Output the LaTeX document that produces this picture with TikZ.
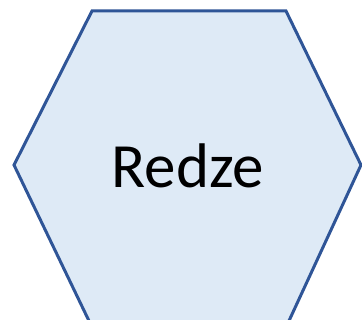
\documentclass[tikz,border=0pt]{standalone}
\usepackage{fontspec}
\setmainfont{Carlito}
\definecolor{hexfill}{HTML}{DEEAF6}
\definecolor{hexline}{HTML}{2F5597}
\tikzset{
  hexside/.style={draw=hexline,fill=hexfill,line width=3pt,line join=miter},
  label/.style={font=\fontsize{63}{63}\selectfont,text=black}
}
\begin{document}
\begin{tikzpicture}[x=1pt,y=-1pt]
\useasboundingbox (0,0) rectangle (362,320);
\coordinate (tl) at (92,11);
\coordinate (tr) at (286,11);
\coordinate (r) at (361,165);
\coordinate (br) at (288,323);
\coordinate (bl) at (90,323);
\coordinate (l) at (14,165);
\draw[hexside] (tl) -- (tr) -- (r) -- (br) -- (bl) -- (l) -- cycle;
\node[label] (name) at (188,166) {Redze};
\end{tikzpicture}
\end{document}
